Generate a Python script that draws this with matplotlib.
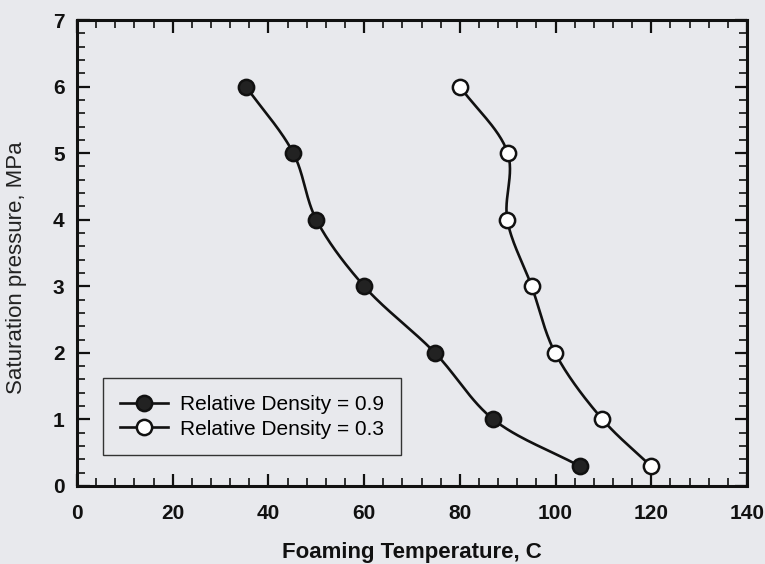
import numpy as np
import matplotlib
matplotlib.use("Agg")
import matplotlib.pyplot as plt
from matplotlib.ticker import MultipleLocator

# Data
pressure = [6, 5, 4, 3, 2, 1, 0.3]
temp_rd09 = [35.3, 45.2, 50.0, 60.0, 74.8, 87.0, 105.0]
temp_rd03 = [80.0, 90.0, 89.9, 95.0, 99.9, 109.8, 119.9]
labels = ["Relative Density = 0.9", "Relative Density = 0.3"]

xticks = [0, 20, 40, 60, 80, 100, 120, 140]
yticks = [0, 1, 2, 3, 4, 5, 6, 7]

BG = "#e8e9ed"


def smooth(xs, ys, n=30):
    """Centripetal Catmull-Rom curve through the data points (rendering only)."""
    P = np.column_stack([xs, ys]).astype(float)
    S = P / np.array([140.0, 7.0]) * np.array([670.0, 466.0])
    S = np.vstack([2 * S[0] - S[1], S, 2 * S[-1] - S[-2]])
    out = []
    for i in range(1, len(S) - 2):
        p0, p1, p2, p3 = S[i - 1], S[i], S[i + 1], S[i + 2]
        a = 0.5
        t0 = 0.0
        t1 = t0 + np.linalg.norm(p1 - p0) ** a
        t2 = t1 + np.linalg.norm(p2 - p1) ** a
        t3 = t2 + np.linalg.norm(p3 - p2) ** a
        t = np.linspace(t1, t2, n)[:, None]
        A1 = (t1 - t) / (t1 - t0) * p0 + (t - t0) / (t1 - t0) * p1
        A2 = (t2 - t) / (t2 - t1) * p1 + (t - t1) / (t2 - t1) * p2
        A3 = (t3 - t) / (t3 - t2) * p2 + (t - t2) / (t3 - t2) * p3
        B1 = (t2 - t) / (t2 - t0) * A1 + (t - t0) / (t2 - t0) * A2
        B2 = (t3 - t) / (t3 - t1) * A2 + (t - t1) / (t3 - t1) * A3
        C = (t2 - t) / (t2 - t1) * B1 + (t - t1) / (t2 - t1) * B2
        out.append(C if i == len(S) - 3 else C[:-1])
    C = np.vstack(out)
    C = C / np.array([670.0, 466.0]) * np.array([140.0, 7.0])
    return C[:, 0], C[:, 1]


plt.rcParams["font.family"] = ["Liberation Sans", "DejaVu Sans"]

fig = plt.figure(figsize=(7.65, 5.64), dpi=100, facecolor=BG)
ax = fig.add_axes([0.1007, 0.1383, 0.8758, 0.8262])
ax.set_facecolor(BG)

lw = 1.9
ms = 11
for temps, fill in [(temp_rd09, "#222222"), (temp_rd03, "white")]:
    sx, sy = smooth(temps, pressure)
    ax.plot(sx, sy, color="#111111", lw=lw, zorder=2)
    ax.plot(temps, pressure, linestyle="none", marker="o", markersize=ms,
            markerfacecolor=fill, markeredgecolor="#111111",
            markeredgewidth=1.8, zorder=3)

# legend proxies
h1, = ax.plot([], [], color="#111111", lw=lw, marker="o", markersize=ms,
              markerfacecolor="#222222", markeredgecolor="#111111", markeredgewidth=1.8)
h2, = ax.plot([], [], color="#111111", lw=lw, marker="o", markersize=ms,
              markerfacecolor="white", markeredgecolor="#111111", markeredgewidth=1.8)
leg = ax.legend([h1, h2], labels, loc="lower left",
                bbox_to_anchor=(0.039, 0.066), borderaxespad=0,
                fontsize=15, frameon=True, fancybox=False,
                handlelength=2.3, handletextpad=0.6, labelspacing=0.27,
                borderpad=0.8, facecolor=BG, framealpha=1)
leg.get_frame().set_edgecolor("#333333")
leg.get_frame().set_linewidth(1.0)

ax.set_xlim(0, 140)
ax.set_ylim(0, 7)
ax.set_xticks(xticks)
ax.set_yticks(yticks)
ax.xaxis.set_minor_locator(MultipleLocator(4))
ax.yaxis.set_minor_locator(MultipleLocator(0.2))
ax.tick_params(which="both", direction="in", top=True, right=True,
               color="#111111")
ax.tick_params(which="major", length=9, width=1.6)
ax.tick_params(which="minor", length=6, width=1.2)
ax.tick_params(axis="x", which="major", pad=13, labelsize=15)
ax.tick_params(axis="y", which="major", pad=9, labelsize=15)
for lab in ax.get_xticklabels() + ax.get_yticklabels():
    lab.set_fontweight("bold")
    lab.set_color("#111111")

for sp in ax.spines.values():
    sp.set_linewidth(2.2)
    sp.set_color("#111111")

ax.set_xlabel("Foaming Temperature, C", fontsize=16, fontweight="bold",
              color="#111111", labelpad=14)
ax.set_ylabel("Saturation pressure, MPa", fontsize=16, color="#222222")
ax.yaxis.set_label_coords(-0.074, 0.468)

fig.savefig("out.png", dpi=100, facecolor=BG)
